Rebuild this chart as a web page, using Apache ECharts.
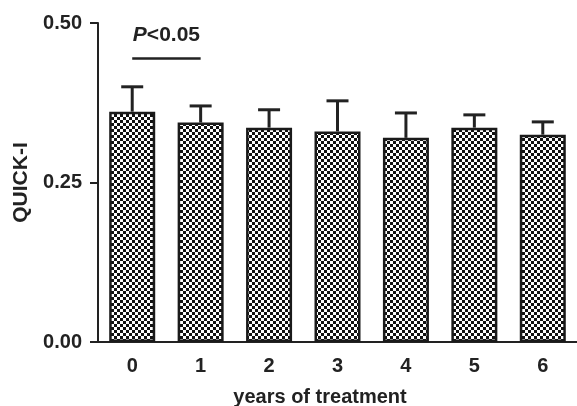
<!DOCTYPE html>
<html><head><meta charset="utf-8">
<script src="https://cdn.jsdelivr.net/npm/echarts@6/dist/echarts.min.js"></script>
<style>html,body{margin:0;padding:0;background:#fff}#c{width:577px;height:406px}</style>
</head><body><div id="c"></div>
<script>
const categories = ['0','1','2','3','4','5','6'];
const means = [0.361, 0.344, 0.336, 0.330, 0.320, 0.336, 0.325];
const errors = [0.039, 0.026, 0.028, 0.048, 0.039, 0.020, 0.020];
const yTicks = [0, 0.25, 0.5];

const pc = document.createElement('canvas');
pc.width = 6; pc.height = 6;
const g = pc.getContext('2d');
g.fillStyle = '#fff'; g.fillRect(0,0,6,6);
g.fillStyle = '#111'; g.fillRect(0,0,3,3); g.fillRect(3,3,3,3);

const font = '"Liberation Sans", Arial, sans-serif';
const chart = echarts.init(document.getElementById('c'), null, {renderer:'canvas'});
chart.setOption({
  animation: false,
  grid: {left: 98, right: 0, top: 23, bottom: 64, containLabel: false, outerBoundsMode: 'none'},
  xAxis: {
    type: 'category', data: categories,
    name: 'years of treatment', nameLocation: 'middle', nameGap: 45,
    nameTextStyle: {fontFamily: font, fontWeight: 'bold', fontSize: 20, color: '#222', padding: [0, 35, 0, 0]},
    axisLine: {lineStyle: {color: '#222', width: 2}},
    axisTick: {alignWithLabel: true, length: 8, lineStyle: {color: '#222', width: 2}},
    axisLabel: {fontFamily: font, fontWeight: 'bold', fontSize: 20, color: '#222', margin: 14}
  },
  yAxis: {
    type: 'value', min: 0, max: 0.5, interval: 0.25,
    name: 'QUICK-I', nameLocation: 'middle', nameGap: 64, nameRotate: 90,
    nameTextStyle: {fontFamily: font, fontWeight: 'bold', fontSize: 21, color: '#222'},
    axisLine: {show: true, lineStyle: {color: '#222', width: 2}},
    axisTick: {show: true, length: 8, lineStyle: {color: '#222', width: 2}},
    splitLine: {show: false},
    axisLabel: {fontFamily: font, fontWeight: 'bold', fontSize: 20, color: '#222', margin: 16,
      formatter: v => yTicks.includes(v) ? v.toFixed(2) : ''}
  },
  series: [
    {
      type: 'bar', data: means, barWidth: 46, z: 2,
      itemStyle: {color: {image: pc, repeat: 'repeat'}, borderColor: '#1a1a1a', borderWidth: 2.5},
      markLine: {
        symbol: 'none', silent: true,
        lineStyle: {color: '#222', width: 2.5, type: 'solid'},
        label: {show: true, position: 'middle', distance: 12,
          formatter: '{i|P}<0.05',
          fontFamily: font, fontWeight: 'bold', fontSize: 21, color: '#222',
          rich: {i: {fontFamily: font, fontWeight: 'bold', fontStyle: 'italic', fontSize: 21, color: '#222'}}},
        data: [[{coord: ['0', 0.445]}, {coord: ['1', 0.445]}]]
      }
    },
    {
      type: 'custom', z: 3,
      data: means.map((m, i) => [i, m, m + errors[i]]),
      renderItem: (params, api) => {
        const p0 = api.coord([api.value(0), api.value(1)]);
        const p1 = api.coord([api.value(0), api.value(2)]);
        const hw = 11;
        const st = {stroke: '#222', lineWidth: 3};
        return {type: 'group', children: [
          {type: 'line', shape: {x1: p0[0], y1: p0[1], x2: p1[0], y2: p1[1]}, style: st},
          {type: 'line', shape: {x1: p1[0]-hw, y1: p1[1], x2: p1[0]+hw, y2: p1[1]}, style: st}
        ]};
      }
    }
  ]
});
</script></body></html>
